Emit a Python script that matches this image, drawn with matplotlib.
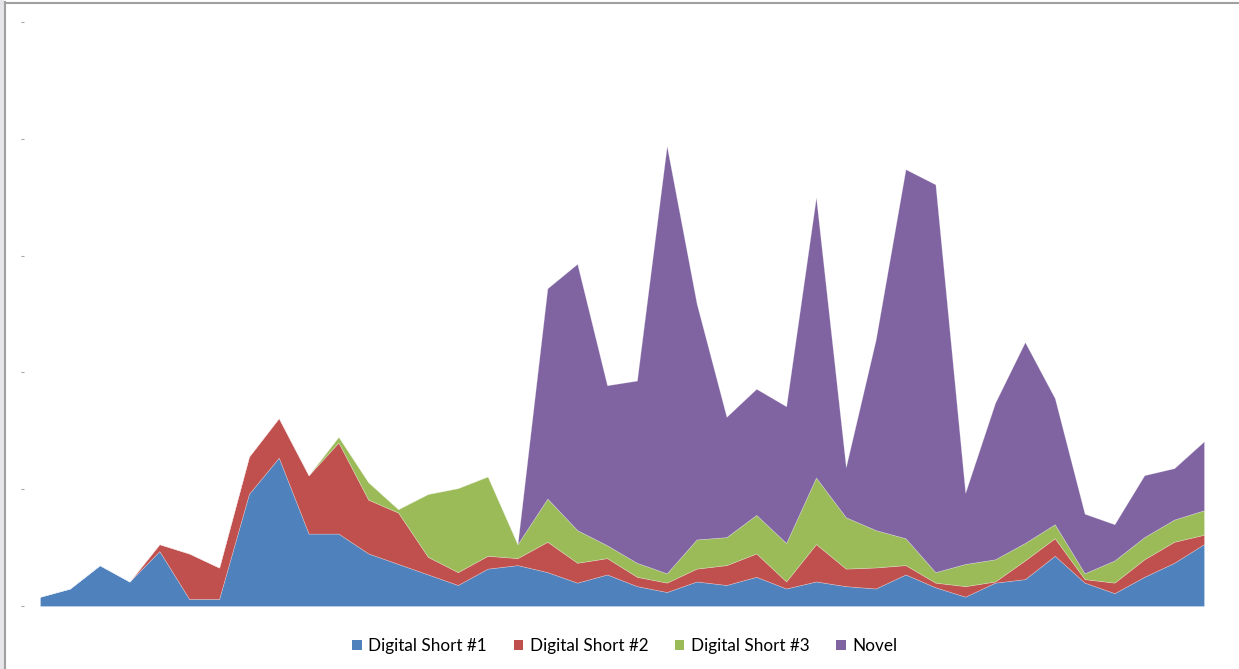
import matplotlib.pyplot as plt
from matplotlib.patches import Patch, Rectangle
from matplotlib.lines import Line2D

# weekly sales by title
periods = list(range(40))
short1 = [0.8, 1.5, 3.5, 2.1, 4.7, 0.6, 0.6, 9.6, 12.7, 6.2,
          6.2, 4.5, 3.6, 2.7, 1.8, 3.2, 3.5, 2.9, 2.0, 2.7,
          1.7, 1.2, 2.1, 1.8, 2.5, 1.5, 2.1, 1.7, 1.5, 2.7,
          1.6, 0.8, 2.0, 2.3, 4.3, 2.0, 1.1, 2.5, 3.7, 5.3]
short2 = [0.0, 0.0, 0.0, 0.0, 0.6, 3.9, 2.7, 3.2, 3.4, 5.0,
          7.8, 4.6, 4.4, 1.5, 1.1, 1.1, 0.6, 2.6, 1.7, 1.4,
          0.8, 0.8, 1.1, 1.7, 2.0, 0.6, 3.2, 1.5, 1.8, 0.8,
          0.4, 0.9, 0.1, 1.6, 1.5, 0.3, 0.9, 1.5, 1.8, 0.8]
short3 = [0.0, 0.0, 0.0, 0.0, 0.0, 0.0, 0.0, 0.0, 0.0, 0.0,
          0.5, 1.5, 0.3, 5.4, 7.2, 6.8, 1.2, 3.7, 2.8, 1.1,
          1.2, 0.8, 2.5, 2.4, 3.3, 3.3, 5.7, 4.4, 3.2, 2.3,
          0.9, 1.9, 1.9, 1.5, 1.2, 0.5, 1.9, 1.9, 1.9, 2.1]
novel = [0.0, 0.0, 0.0, 0.0, 0.0, 0.0, 0.0, 0.0, 0.0, 0.0,
         0.0, 0.0, 0.0, 0.0, 0.0, 0.0, 0.0, 18.0, 22.8, 13.7,
         15.6, 36.6, 20.2, 10.3, 10.8, 11.7, 24.0, 4.3, 16.3, 31.6,
         33.2, 6.1, 13.4, 17.2, 10.8, 5.1, 3.1, 5.3, 4.4, 5.9]

labels = ["Digital Short #1", "Digital Short #2", "Digital Short #3", "Novel"]
colors = ["#4F81BD", "#C0504D", "#9BBB59", "#8064A2"]

plt.rcParams['font.family'] = ['Lato', 'DejaVu Sans']

fig = plt.figure(figsize=(12.39, 6.69), dpi=100)
W, H = 1239, 669
ax = fig.add_axes([40 / W, (H - 606) / H, (1204 - 40) / W, (606 - 22) / H])

ax.stackplot(periods, short1, short2, short3, novel, colors=colors,
             edgecolor=(1, 1, 1, 0.3), linewidth=0.5)

ax.set_xlim(0, 39)
ax.set_ylim(0, 50)
ax.set_yticks(range(0, 51, 10))
ax.set_xticks([])
for s in ax.spines.values():
    s.set_visible(False)
ax.spines['left'].set_position(('outward', 11.5))
ax.tick_params(axis='y', length=2.2, width=0.8, color='#a6a6a6', labelleft=False)

handles = [Patch(facecolor=c, edgecolor='none') for c in colors]
fig.legend(handles, labels, loc='center', bbox_to_anchor=(625 / W, (H - 646) / H),
           ncol=4, frameon=False, fontsize=12.3, handlelength=0.55, handleheight=0.55,
           handletextpad=0.4, columnspacing=1.55)

# outer chart frame (top and left edges)
fig.patches.append(Rectangle((0, 0), 4 / W, 1, transform=fig.transFigure,
                             facecolor='#e6e6ea', edgecolor='none'))
fig.lines.append(Line2D([4.5 / W, 4.5 / W], [0, (H - 2) / H], transform=fig.transFigure,
                        color='#a0a0a0', linewidth=1.5))
fig.lines.append(Line2D([4.5 / W, 1], [(H - 2.5) / H, (H - 2.5) / H], transform=fig.transFigure,
                        color='#a0a0a0', linewidth=1.5))

fig.savefig("out.png", dpi=100)
